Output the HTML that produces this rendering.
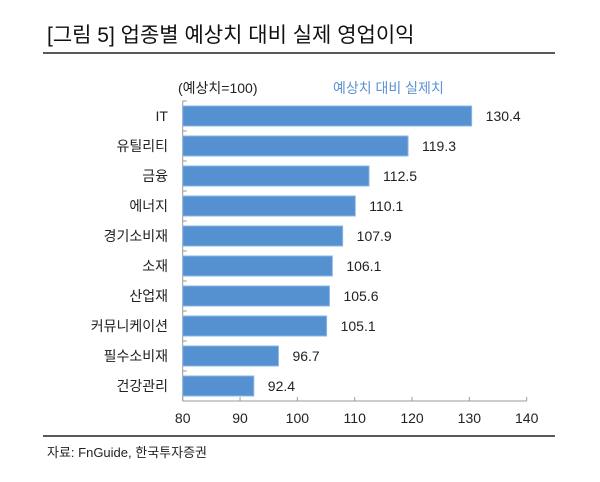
<!DOCTYPE html>
<html><head><meta charset="utf-8"><style>
body{margin:0;background:#fff;width:600px;height:477px;overflow:hidden;font-family:"Liberation Sans","Noto Sans CJK KR",sans-serif;}
</style></head><body>
<svg width="600" height="477" xmlns="http://www.w3.org/2000/svg" font-family="Liberation Sans, Noto Sans CJK KR, sans-serif">
<text x="47" y="42" font-size="21" fill="#111">[그림 5] 업종별 예상치 대비 실제 영업이익</text>
<line x1="43" y1="53" x2="555" y2="53" stroke="#222" stroke-width="1.6"/>
<text x="178" y="93" font-size="14" fill="#222">(예상치=100)</text>
<text x="333" y="93" font-size="14" fill="#5b93d3">예상치 대비 실제치</text>
<g id="plot"></g>
<line x1="43" y1="436" x2="555" y2="436" stroke="#222" stroke-width="1.6"/>
<text x="47" y="457" font-size="13" fill="#222">자료: FnGuide, 한국투자증권</text>
</svg>
<script>
const categories=["IT","유틸리티","금융","에너지","경기소비재","소재","산업재","커뮤니케이션","필수소비재","건강관리"];
const values=[130.4,119.3,112.5,110.1,107.9,106.1,105.6,105.1,96.7,92.4];
const ticks=[80,90,100,110,120,130,140];
(function(){
const NS="http://www.w3.org/2000/svg";
const g=document.getElementById('plot');
const x0=182.7,x1=526.7,xmin=80,xmax=140,plotTop=101,band=30;
const X=v=>x0+(v-xmin)/(xmax-xmin)*(x1-x0);
function mk(t,a,txt){const e=document.createElementNS(NS,t);for(const k in a)e.setAttribute(k,a[k]);if(txt!=null)e.textContent=txt;g.appendChild(e);return e;}
const plotBottom=plotTop+band*categories.length;
let e=mk('line',{x1:x0,y1:plotTop,x2:x0,y2:plotBottom,stroke:'#999','stroke-width':1});


e=mk('line',{x1:x0,y1:plotBottom,x2:x1,y2:plotBottom,stroke:'#999','stroke-width':1});


categories.forEach((c,i)=>{
  const y=plotTop+i*band;
  let t=mk('line',{x1:x0,y1:y,x2:x0+4,y2:y,stroke:'#999'});
  
  
  let r=mk('rect',{x:x0,y:y+5,width:X(values[i])-x0,height:20,fill:'#5590d0',stroke:'#8cb6e3','stroke-width':1});
  
  
  let l=mk('text',{x:168,y:y+20,'font-size':14,'text-anchor':'end',fill:'#222'},c);
  
  
  let v=mk('text',{x:X(values[i])+14,y:y+20,'font-size':14,fill:'#222'},values[i].toFixed(1));
  
  
});
ticks.forEach(tv=>{
  const x=X(tv);
  let t=mk('line',{x1:x,y1:plotBottom-4,x2:x,y2:plotBottom,stroke:'#999'});
  
  
  let l=mk('text',{x:x,y:423,'font-size':14,'text-anchor':'middle',fill:'#222'},tv);
  
  
});
})();
</script>
</body></html>
